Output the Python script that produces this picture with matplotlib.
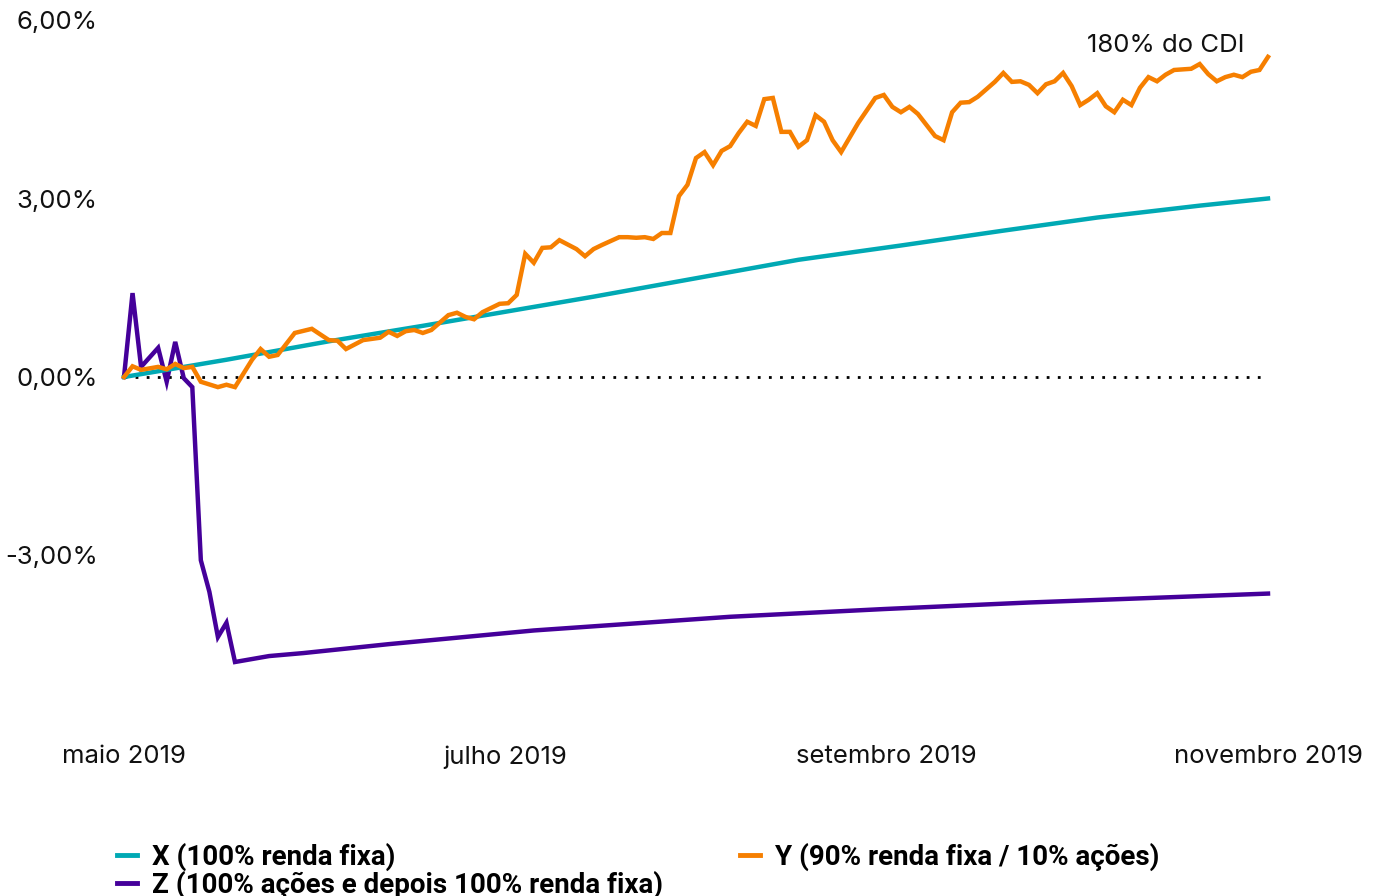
import matplotlib
matplotlib.use("Agg")
import matplotlib.pyplot as plt
from matplotlib.lines import Line2D

# ---- data (cumulative return, %) ----
x_days = [0, 12, 24, 35, 44, 55, 67, 79, 91, 103, 114, 126, 134]
x_vals = [0.00, 0.29, 0.60, 0.86, 1.08, 1.35, 1.66, 1.97, 2.21, 2.46, 2.68, 2.88, 3.00]

y_days = [0, 1, 2, 4, 5, 6, 7, 8, 9, 11, 12, 13, 15, 16, 17, 18, 20, 22, 24, 25, 26,
          28, 30, 31, 32, 33, 34, 35, 36, 38, 39, 40, 41, 42, 43, 44, 45, 46, 47, 48,
          49, 50, 51, 53, 54, 55, 56, 58, 59, 60, 61, 62, 63, 64, 65, 66, 67, 68, 69,
          70, 71, 72, 73, 74, 75, 76, 77, 78, 79, 80, 81, 82, 83, 84, 86, 88, 89, 90,
          91, 92, 93, 95, 96, 97, 98, 99, 100, 102, 103, 104, 105, 106, 107, 108, 109,
          110, 111, 112, 113, 114, 115, 116, 117, 118, 119, 120, 121, 122, 123, 125,
          126, 127, 128, 129, 130, 131, 132, 133, 134]
y_vals = [0.00, 0.18, 0.12, 0.17, 0.13, 0.22, 0.15, 0.17, -0.08, -0.17, -0.13, -0.17,
          0.29, 0.47, 0.34, 0.37, 0.74, 0.81, 0.62, 0.61, 0.47, 0.62, 0.66, 0.76, 0.69,
          0.77, 0.79, 0.74, 0.79, 1.04, 1.08, 1.01, 0.97, 1.09, 1.16, 1.23, 1.24, 1.38,
          2.07, 1.92, 2.17, 2.18, 2.30, 2.15, 2.03, 2.15, 2.22, 2.35, 2.35, 2.34, 2.35,
          2.32, 2.42, 2.42, 3.04, 3.23, 3.68, 3.78, 3.56, 3.80, 3.88, 4.10, 4.29, 4.22,
          4.67, 4.69, 4.12, 4.12, 3.87, 3.98, 4.40, 4.29, 3.98, 3.78, 4.27, 4.69, 4.74,
          4.54, 4.45, 4.54, 4.42, 4.05, 3.98, 4.45, 4.61, 4.62, 4.71, 4.96, 5.11, 4.96,
          4.97, 4.91, 4.77, 4.92, 4.97, 5.11, 4.89, 4.57, 4.66, 4.77, 4.55, 4.45, 4.66,
          4.57, 4.86, 5.04, 4.97, 5.08, 5.16, 5.18, 5.26, 5.09, 4.97, 5.04, 5.08, 5.04,
          5.13, 5.16, 5.38]

z_days = [0, 1, 2, 4, 5, 6, 7, 8, 9, 10, 11, 12, 13, 17, 21, 31, 48, 71, 89, 106, 134]
z_vals = [0.00, 1.41, 0.17, 0.49, -0.08, 0.59, -0.02, -0.17, -3.08, -3.61, -4.37, -4.13,
          -4.79, -4.69, -4.64, -4.49, -4.26, -4.03, -3.90, -3.79, -3.64]

x_tick_labels = ["maio 2019", "julho 2019", "setembro 2019", "novembro 2019"]
y_ticks = [-3, 0, 3, 6]
y_tick_labels = ["-3,00%", "0,00%", "3,00%", "6,00%"]
labels = ["X (100% renda fixa)", "Y (90% renda fixa / 10% ações)",
          "Z (100% ações e depois 100% renda fixa)"]
annotation = "180% do CDI"

c_x = "#00A9B4"
c_y = "#F67F00"
c_z = "#45009A"

W, H = 1381, 896
fig = plt.figure(figsize=(W / 100, H / 100), dpi=100)
ax = fig.add_axes([124 / W, (H - 734) / H, 1144 / W, 714 / H])

n_last = x_days[-1]
ax.set_xlim(0, n_last)
ax.set_ylim(-6, 6)

ax.axhline(0, color="black", lw=2, ls=(0, (1, 3)), xmax=0.997, zorder=1)
ax.plot(x_days, x_vals, color=c_x, lw=3.2, clip_on=False, zorder=3, solid_joinstyle="miter")
ax.plot(y_days, y_vals, color=c_y, lw=3.2, clip_on=False, zorder=4, solid_joinstyle="miter")
ax.plot(z_days, z_vals, color=c_z, lw=3.2, clip_on=False, zorder=2, solid_joinstyle="miter")

ax.text(y_days[-1] - 2.7, 6 - (45 - 20) / 59.5, annotation, ha="right", va="center",
        fontsize=18.5, family="Inter", color="#111111")

for s in ax.spines.values():
    s.set_visible(False)
ax.set_xticks([0, n_last / 3, 2 * n_last / 3, n_last])
ax.set_xticklabels(x_tick_labels)
ax.set_yticks(y_ticks)
ax.set_yticklabels(y_tick_labels)
ax.tick_params(axis="both", length=0, labelsize=18.5, colors="#111111")
ax.tick_params(axis="x", pad=8)
ax.tick_params(axis="y", pad=19)
for t in ax.get_xticklabels() + ax.get_yticklabels():
    t.set_family("Inter")

prop = {"family": "Roboto", "weight": "bold", "size": 20}
common = dict(frameon=False, handlelength=0.72, handletextpad=0.55,
              labelspacing=0.0, borderpad=0.0, borderaxespad=0.0, prop=prop)
leg1 = fig.legend([Line2D([], [], color=c_x, lw=3.5), Line2D([], [], color=c_z, lw=3.5)],
                  [labels[0], labels[2]], loc="upper left",
                  bbox_to_anchor=(117 / W, 1 - 843 / H), **common)
leg2 = fig.legend([Line2D([], [], color=c_y, lw=3.5)], [labels[1]], loc="upper left",
                  bbox_to_anchor=(740 / W, 1 - 843 / H), **common)

fig.savefig("out.png", dpi=100, facecolor="white")
